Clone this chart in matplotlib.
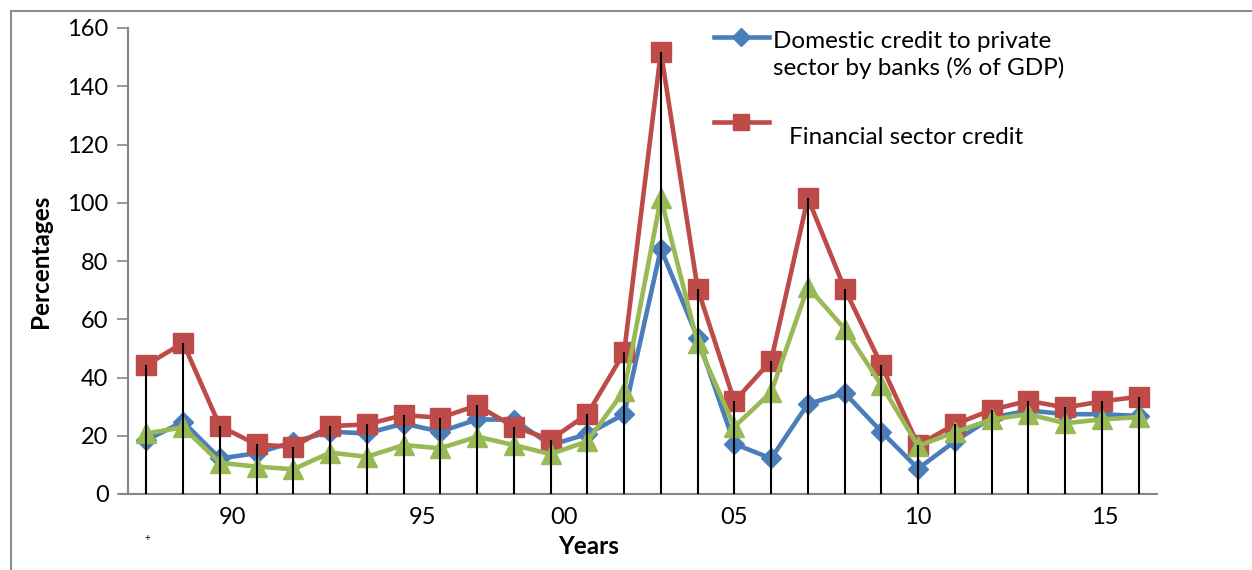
import matplotlib
matplotlib.use("Agg")
import matplotlib.pyplot as plt
from matplotlib.lines import Line2D

plt.rcParams['font.family'] = ['Lato', 'DejaVu Sans']

years = list(range(1989, 2017))

domestic_credit_banks = [18.5, 24.8, 12.2, 14.0, 17.9, 21.4, 20.8, 24.2, 21.4, 25.6,
                         25.5, 16.8, 20.6, 27.4, 84.2, 53.6, 17.2, 12.2, 30.9, 34.7,
                         21.4, 8.7, 18.1, 26.2, 28.7, 27.4, 27.4, 26.8]

financial_sector_credit = [44.3, 51.9, 23.3, 17.0, 16.2, 23.3, 23.9, 27.1, 26.2, 30.4,
                           23.1, 18.7, 27.4, 48.6, 151.8, 70.5, 31.8, 45.8, 101.6, 70.5,
                           44.3, 16.8, 23.9, 28.9, 32.0, 29.7, 31.8, 33.4]

third_series = [20.8, 22.9, 10.7, 9.4, 8.5, 14.2, 12.8, 16.8, 15.7, 19.7,
                16.8, 13.7, 18.1, 35.5, 101.6, 51.8, 23.1, 34.9, 71.1, 56.7,
                37.4, 16.5, 21.2, 25.6, 27.4, 24.3, 25.6, 26.4]

tick_labels = ["90", "95", "00", "05", "10", "15"]
tick_at = [2.35, 7.5, 11.37, 16.0, 21.0, 26.07]

legend_labels = ["Domestic credit to private\nsector by banks (% of GDP)",
                 "Financial sector credit"]

BLUE = "#4A7EBB"
RED = "#BE4B48"
GREEN = "#98B954"
GRAY = "#868686"

W, H = 1252, 570
fig = plt.figure(figsize=(W / 100, H / 100), dpi=100)
ax = fig.add_axes([128 / W, 1 - 494 / H, (1157 - 128) / W, (494 - 28) / H])

x = list(range(len(years)))

ax.plot(x, domestic_credit_banks, color=BLUE, lw=3.3, marker='D', ms=10,
        mfc=BLUE, mec=BLUE, zorder=3)
ax.plot(x, financial_sector_credit, color=RED, lw=3.3, marker='s', ms=14,
        mfc=RED, mec=RED, zorder=4)
ax.plot(x, third_series, color=GREEN, lw=3.3, marker='^', ms=14,
        mfc=GREEN, mec=GREEN, zorder=5)

# drop lines from the financial sector credit series down to the axis
ax.vlines(x, 0, financial_sector_credit, color='black', lw=1.5, zorder=6)

ax.set_xlim(-0.5, len(years) - 0.5)
ax.set_ylim(0, 160)
ax.set_yticks(range(0, 161, 20))
ax.set_xticks(tick_at)
ax.set_xticklabels(tick_labels)
ax.tick_params(axis='y', direction='out', length=8, width=1.2, color=GRAY,
               labelsize=17, pad=6)
ax.tick_params(axis='x', length=0, labelsize=17, pad=9)

for side in ('top', 'right'):
    ax.spines[side].set_visible(False)
for side in ('left', 'bottom'):
    ax.spines[side].set_color(GRAY)
    ax.spines[side].set_linewidth(1.5)
ax.spines['bottom'].set_bounds(-0.5 - 8 / 36.7, len(years) - 0.5)

fig.text(40 / W, 1 - 261 / H, "Percentages", rotation=90, ha='center', va='center',
         fontsize=17.5, fontweight='bold')
fig.text(589 / W, 1 - 546 / H, "Years", ha='center', va='center',
         fontsize=17.5, fontweight='bold')
fig.text(147 / W, 1 - 538 / H, "+", ha='center', va='center', fontsize=7)

# legend
fig.add_artist(Line2D([714 / W, 769 / W], [1 - 37 / H, 1 - 37 / H], color=BLUE, lw=3.3,
                      transform=fig.transFigure))
fig.add_artist(Line2D([741 / W], [1 - 37 / H], color=BLUE, marker='D', ms=9,
                      transform=fig.transFigure))
fig.add_artist(Line2D([714 / W, 769 / W], [1 - 122 / H, 1 - 122 / H], color=RED, lw=3.3,
                      transform=fig.transFigure))
fig.add_artist(Line2D([741 / W], [1 - 122 / H], color=RED, marker='s', ms=12,
                      transform=fig.transFigure))
fig.text(773 / W, 1 - 55 / H, legend_labels[0], ha='left', va='center', fontsize=17.5,
         linespacing=1.28)
fig.text(789 / W, 1 - 138 / H, legend_labels[1], ha='left', va='center', fontsize=17.5)

# outer frame
fig.add_artist(Line2D([11 / W, 11 / W], [0, 1 - 11 / H], color="#8C8C8C", lw=1.5,
                      transform=fig.transFigure))
fig.add_artist(Line2D([11 / W, 1], [1 - 11 / H, 1 - 11 / H], color="#8C8C8C", lw=1.5,
                      transform=fig.transFigure))

fig.savefig("out.png", dpi=100)
